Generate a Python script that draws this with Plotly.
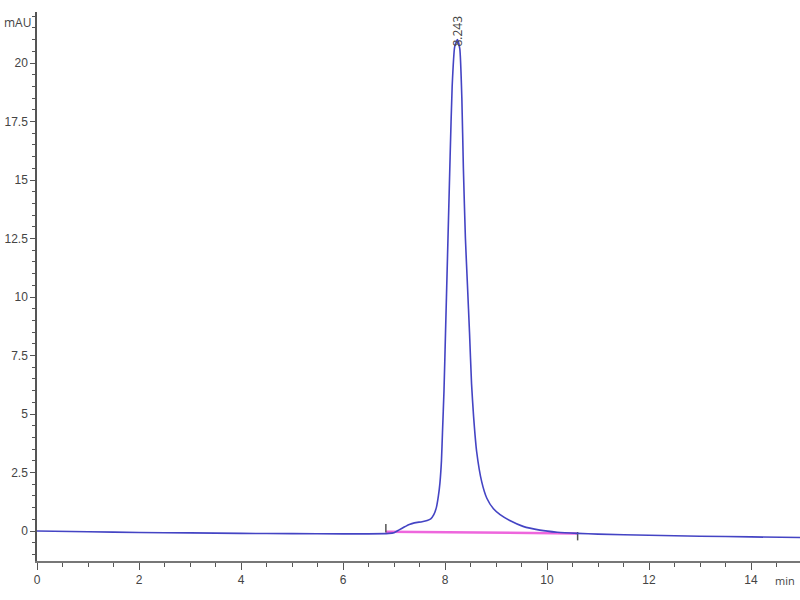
import plotly.graph_objects as go

# chromatogram trace (min, mAU)
time_min = [0.0, 1.0, 2.0, 3.0, 4.0, 5.0, 6.0, 6.5, 6.9, 7.0, 7.1, 7.2, 7.3, 7.4,
            7.55, 7.65, 7.72, 7.78, 7.83, 7.87, 7.9, 7.93, 7.95, 7.98, 8.01, 8.04,
            8.07, 8.1, 8.14, 8.19, 8.243, 8.29, 8.33, 8.36, 8.4, 8.44, 8.48, 8.52,
            8.56, 8.62, 8.72, 8.82, 8.95, 9.08, 9.27, 9.53, 9.86, 10.2, 10.6, 11.0,
            12.0, 13.0, 14.0, 15.0]
signal_mau = [0.0, -0.03, -0.06, -0.08, -0.1, -0.11, -0.12, -0.12, -0.1, -0.07,
              0.05, 0.17, 0.28, 0.35, 0.4, 0.45, 0.52, 0.7, 1.0, 1.5, 2.05, 3.0,
              4.2, 6.0, 8.5, 11.0, 13.5, 16.0, 19.0, 20.7, 21.0, 20.6, 18.5, 15.5,
              12.5, 10.5, 8.5, 6.3, 4.9, 3.4, 2.1, 1.4, 0.95, 0.7, 0.45, 0.2,
              0.04, -0.05, -0.1, -0.13, -0.18, -0.22, -0.25, -0.28]

# integration baseline
base_x = [6.84, 10.6]
base_y = [-0.03, -0.1]
base_tick_y = [0.12, -0.22]

peak_rt = 8.243
peak_height = 21.0

fig = go.Figure()
fig.add_trace(go.Scatter(
    x=base_x, y=base_y, mode="lines",
    line=dict(color="#ee66dd", width=2.5), hoverinfo="skip",
))
fig.add_trace(go.Scatter(
    x=base_x, y=base_tick_y, mode="markers",
    marker=dict(symbol="line-ns", size=6, line=dict(color="#555", width=1.5)),
    hoverinfo="skip",
))
fig.add_trace(go.Scatter(
    x=time_min, y=signal_mau, mode="lines",
    line=dict(color="#4444c4", width=1.6, shape="spline", smoothing=0.5),
))

fig.add_annotation(x=peak_rt, y=peak_height, text=f"{peak_rt:.3f}", textangle=-90,
                   showarrow=False, yanchor="bottom", yshift=-9,
                   font=dict(size=12, color="#444"))
fig.add_annotation(xref="paper", yref="paper", x=0, y=1, text="mAU",
                   xanchor="right", yanchor="middle", xshift=-4, yshift=-10,
                   showarrow=False, font=dict(size=12, color="#444"))
fig.add_annotation(xref="paper", yref="paper", x=1, y=0, text="min",
                   xanchor="right", yanchor="middle", xshift=-3, yshift=-19,
                   showarrow=False, font=dict(size=11, color="#444"))

axis_font = dict(family="Liberation Sans, Arial", size=12, color="#444")
fig.update_xaxes(
    range=[0, 14.96], dtick=2, tick0=0, showgrid=False, zeroline=False,
    showline=True, linecolor="#777", linewidth=2, automargin=False,
    ticks="outside", ticklen=7, tickcolor="#555", tickfont=axis_font,
    minor=dict(dtick=0.5, ticks="outside", ticklen=4, tickcolor="#555"),
)
fig.update_yaxes(
    range=[-1.28, 22.18], dtick=2.5, tick0=0, showgrid=False, zeroline=False,
    showline=True, linecolor="#555", linewidth=1.5, automargin=False,
    ticks="outside", ticklen=5, tickcolor="#555", tickfont=axis_font,
    minor=dict(dtick=0.5, ticks="outside", ticklen=3, tickcolor="#555"),
)
fig.update_layout(
    width=800, height=600, showlegend=False,
    margin=dict(l=37, r=0, t=12, b=39),
    plot_bgcolor="white", paper_bgcolor="white",
)
# drop the default 8px page margin so the figure sits at the window's corner
fig.write_html("out.html", config={"displayModeBar": False},
               post_script="document.body.style.margin = '0';")
